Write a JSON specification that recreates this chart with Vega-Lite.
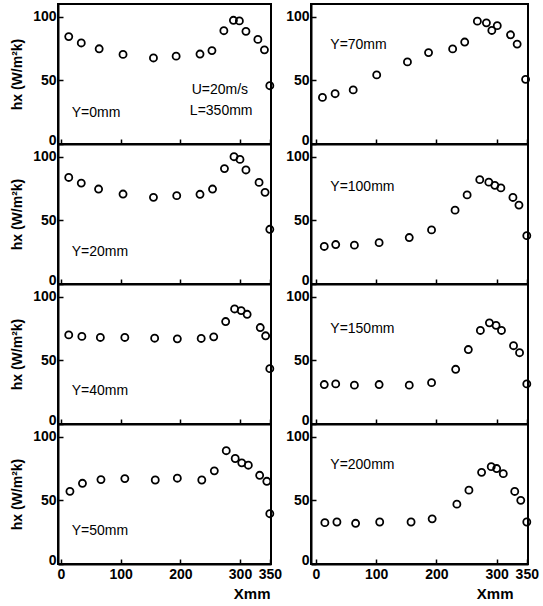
{
  "$schema": "https://vega.github.io/schema/vega-lite/v6.json",
  "background": "white",
  "padding": {"left": 9, "top": 3, "right": 5, "bottom": 0},
  "datasets": {
    "d": [
      {"p":"Y=0mm","x":13,"h":84.4},{"p":"Y=0mm","x":34,"h":79.4},{"p":"Y=0mm","x":64,"h":74.8},{"p":"Y=0mm","x":104,"h":70.4},{"p":"Y=0mm","x":155,"h":67.6},{"p":"Y=0mm","x":193,"h":69},{"p":"Y=0mm","x":233,"h":70.7},{"p":"Y=0mm","x":253,"h":73.4},{"p":"Y=0mm","x":273,"h":89},{"p":"Y=0mm","x":289,"h":97.2},{"p":"Y=0mm","x":299,"h":96.7},{"p":"Y=0mm","x":310,"h":88.5},{"p":"Y=0mm","x":330,"h":82.2},{"p":"Y=0mm","x":341,"h":74},{"p":"Y=0mm","x":350,"h":45.8},
      {"p":"Y=20mm","x":13,"h":83.7},{"p":"Y=20mm","x":34,"h":79.3},{"p":"Y=20mm","x":63,"h":74.6},{"p":"Y=20mm","x":104,"h":70.7},{"p":"Y=20mm","x":155,"h":68.1},{"p":"Y=20mm","x":194,"h":69.4},{"p":"Y=20mm","x":233,"h":70.5},{"p":"Y=20mm","x":254,"h":74.6},{"p":"Y=20mm","x":274,"h":90.7},{"p":"Y=20mm","x":290,"h":100},{"p":"Y=20mm","x":300,"h":97.9},{"p":"Y=20mm","x":310,"h":89.6},{"p":"Y=20mm","x":332,"h":79.8},{"p":"Y=20mm","x":342,"h":72},{"p":"Y=20mm","x":350,"h":43},
      {"p":"Y=40mm","x":13,"h":70},{"p":"Y=40mm","x":35,"h":68.8},{"p":"Y=40mm","x":66,"h":68},{"p":"Y=40mm","x":107,"h":68},{"p":"Y=40mm","x":157,"h":67.4},{"p":"Y=40mm","x":195,"h":66.9},{"p":"Y=40mm","x":235,"h":67.2},{"p":"Y=40mm","x":256,"h":68.5},{"p":"Y=40mm","x":276,"h":80.5},{"p":"Y=40mm","x":291,"h":90.4},{"p":"Y=40mm","x":302,"h":89.1},{"p":"Y=40mm","x":312,"h":86.2},{"p":"Y=40mm","x":334,"h":75.8},{"p":"Y=40mm","x":343,"h":69.3},{"p":"Y=40mm","x":350,"h":43.5},
      {"p":"Y=50mm","x":15,"h":57.1},{"p":"Y=50mm","x":36,"h":63.4},{"p":"Y=50mm","x":67,"h":66.3},{"p":"Y=50mm","x":107,"h":67.1},{"p":"Y=50mm","x":158,"h":66},{"p":"Y=50mm","x":195,"h":67.4},{"p":"Y=50mm","x":236,"h":66},{"p":"Y=50mm","x":257,"h":73.2},{"p":"Y=50mm","x":277,"h":89},{"p":"Y=50mm","x":292,"h":82.9},{"p":"Y=50mm","x":303,"h":79.5},{"p":"Y=50mm","x":314,"h":77.6},{"p":"Y=50mm","x":333,"h":69.7},{"p":"Y=50mm","x":345,"h":65},{"p":"Y=50mm","x":350,"h":39.5},
      {"p":"Y=70mm","x":11,"h":36.6},{"p":"Y=70mm","x":32,"h":39.5},{"p":"Y=70mm","x":62,"h":42.5},{"p":"Y=70mm","x":101,"h":54.3},{"p":"Y=70mm","x":152,"h":64.5},{"p":"Y=70mm","x":187,"h":71.8},{"p":"Y=70mm","x":227,"h":74.7},{"p":"Y=70mm","x":247,"h":80.1},{"p":"Y=70mm","x":268,"h":96.5},{"p":"Y=70mm","x":283,"h":95.2},{"p":"Y=70mm","x":292,"h":89.2},{"p":"Y=70mm","x":301,"h":93},{"p":"Y=70mm","x":323,"h":85.8},{"p":"Y=70mm","x":334,"h":78.5},{"p":"Y=70mm","x":348,"h":50.8},
      {"p":"Y=100mm","x":14,"h":29.5},{"p":"Y=100mm","x":33,"h":31},{"p":"Y=100mm","x":64,"h":30.5},{"p":"Y=100mm","x":105,"h":32.5},{"p":"Y=100mm","x":155,"h":36.5},{"p":"Y=100mm","x":192,"h":42.5},{"p":"Y=100mm","x":231,"h":58},{"p":"Y=100mm","x":251,"h":70},{"p":"Y=100mm","x":272,"h":82},{"p":"Y=100mm","x":287,"h":80},{"p":"Y=100mm","x":297,"h":77.5},{"p":"Y=100mm","x":307,"h":75.5},{"p":"Y=100mm","x":327,"h":68},{"p":"Y=100mm","x":337,"h":62},{"p":"Y=100mm","x":350,"h":38},
      {"p":"Y=150mm","x":14,"h":31},{"p":"Y=150mm","x":33,"h":31.5},{"p":"Y=150mm","x":64,"h":30.5},{"p":"Y=150mm","x":105,"h":31},{"p":"Y=150mm","x":155,"h":30.5},{"p":"Y=150mm","x":192,"h":32.5},{"p":"Y=150mm","x":232,"h":43},{"p":"Y=150mm","x":253,"h":58.5},{"p":"Y=150mm","x":273,"h":73.5},{"p":"Y=150mm","x":288,"h":79.5},{"p":"Y=150mm","x":299,"h":77.5},{"p":"Y=150mm","x":308,"h":73.5},{"p":"Y=150mm","x":328,"h":61.5},{"p":"Y=150mm","x":338,"h":56},{"p":"Y=150mm","x":350,"h":31.5},
      {"p":"Y=200mm","x":15,"h":32.5},{"p":"Y=200mm","x":35,"h":33},{"p":"Y=200mm","x":66,"h":32},{"p":"Y=200mm","x":106,"h":33},{"p":"Y=200mm","x":158,"h":33},{"p":"Y=200mm","x":193,"h":35.5},{"p":"Y=200mm","x":234,"h":47},{"p":"Y=200mm","x":254,"h":58},{"p":"Y=200mm","x":275,"h":72},{"p":"Y=200mm","x":291,"h":76.5},{"p":"Y=200mm","x":300,"h":75},{"p":"Y=200mm","x":311,"h":71},{"p":"Y=200mm","x":330,"h":57},{"p":"Y=200mm","x":340,"h":50},{"p":"Y=200mm","x":350,"h":33}
    ]
  },
  "data": {"name": "d"},
  "hconcat": [
    {
      "bounds": "flush",
      "spacing": 0,
      "vconcat": [
        {
          "width": 213, "height": 140,
          "layer": [
            {"transform": [{"filter": "datum.p == 'Y=0mm'"}], "mark": {"type": "point", "clip": false},
             "encoding": {
               "x": {"field": "x", "type": "quantitative", "scale": {"domain": [-5, 352], "nice": false, "zero": false}, "axis": {"values": [0, 100, 200, 300, 350], "labels": false, "title": null}},
               "y": {"field": "h", "type": "quantitative", "scale": {"domain": [0, 110], "nice": false}, "axis": {"values": [0, 50, 100], "title": "hx (W/m²k)", "labelOffset": {"condition": {"test": "datum.value == 0", "value": -4}, "value": 0}}}}},
            {"data": {"values": [{}]}, "mark": {"type": "text"}, "encoding": {"x": {"datum": 18}, "y": {"datum": 24}, "text": {"value": "Y=0mm"}}},
            {"data": {"values": [{}]}, "mark": {"type": "text"}, "encoding": {"x": {"datum": 219}, "y": {"datum": 42.5}, "text": {"value": "U=20m/s"}}},
            {"data": {"values": [{}]}, "mark": {"type": "text"}, "encoding": {"x": {"datum": 216}, "y": {"datum": 26}, "text": {"value": "L=350mm"}}}
          ]
        },
        {
          "width": 213, "height": 140,
          "layer": [
            {"transform": [{"filter": "datum.p == 'Y=20mm'"}], "mark": {"type": "point", "clip": false},
             "encoding": {
               "x": {"field": "x", "type": "quantitative", "scale": {"domain": [-5, 352], "nice": false, "zero": false}, "axis": {"values": [0, 100, 200, 300, 350], "labels": false, "title": null}},
               "y": {"field": "h", "type": "quantitative", "scale": {"domain": [0, 110], "nice": false}, "axis": {"values": [0, 50, 100], "title": "hx (W/m²k)", "labelOffset": {"condition": {"test": "datum.value == 0", "value": -4}, "value": 0}}}}},
            {"data": {"values": [{}]}, "mark": {"type": "text"}, "encoding": {"x": {"datum": 18}, "y": {"datum": 25}, "text": {"value": "Y=20mm"}}}
          ]
        },
        {
          "width": 213, "height": 140,
          "layer": [
            {"transform": [{"filter": "datum.p == 'Y=40mm'"}], "mark": {"type": "point", "clip": false},
             "encoding": {
               "x": {"field": "x", "type": "quantitative", "scale": {"domain": [-5, 352], "nice": false, "zero": false}, "axis": {"values": [0, 100, 200, 300, 350], "labels": false, "title": null}},
               "y": {"field": "h", "type": "quantitative", "scale": {"domain": [0, 110], "nice": false}, "axis": {"values": [0, 50, 100], "title": "hx (W/m²k)", "labelOffset": {"condition": {"test": "datum.value == 0", "value": -4}, "value": 0}}}}},
            {"data": {"values": [{}]}, "mark": {"type": "text"}, "encoding": {"x": {"datum": 18}, "y": {"datum": 26}, "text": {"value": "Y=40mm"}}}
          ]
        },
        {
          "width": 213, "height": 140,
          "layer": [
            {"transform": [{"filter": "datum.p == 'Y=50mm'"}], "mark": {"type": "point", "clip": false},
             "encoding": {
               "x": {"field": "x", "type": "quantitative", "scale": {"domain": [-5, 352], "nice": false, "zero": false}, "axis": {"values": [0, 100, 200, 300, 350], "title": "Xmm", "titleX": 212, "titleAlign": "right"}},
               "y": {"field": "h", "type": "quantitative", "scale": {"domain": [0, 110], "nice": false}, "axis": {"values": [0, 50, 100], "title": "hx (W/m²k)", "labelOffset": {"condition": {"test": "datum.value == 0", "value": -4}, "value": 0}}}}},
            {"data": {"values": [{}]}, "mark": {"type": "text"}, "encoding": {"x": {"datum": 18}, "y": {"datum": 26}, "text": {"value": "Y=50mm"}}}
          ]
        }
      ]
    },
    {
      "bounds": "flush",
      "spacing": 0,
      "vconcat": [
        {
          "width": 217, "height": 140,
          "layer": [
            {"transform": [{"filter": "datum.p == 'Y=70mm'"}], "mark": {"type": "point", "clip": false},
             "encoding": {
               "x": {"field": "x", "type": "quantitative", "scale": {"domain": [-8, 352], "nice": false, "zero": false}, "axis": {"values": [0, 100, 200, 300, 350], "labels": false, "title": null}},
               "y": {"field": "h", "type": "quantitative", "scale": {"domain": [0, 110], "nice": false}, "axis": {"values": [0, 50, 100], "title": null, "labelOffset": {"condition": {"test": "datum.value == 0", "value": -4}, "value": 0}}}}},
            {"data": {"values": [{}]}, "mark": {"type": "text"}, "encoding": {"x": {"datum": 24}, "y": {"datum": 78}, "text": {"value": "Y=70mm"}}}
          ]
        },
        {
          "width": 217, "height": 140,
          "layer": [
            {"transform": [{"filter": "datum.p == 'Y=100mm'"}], "mark": {"type": "point", "clip": false},
             "encoding": {
               "x": {"field": "x", "type": "quantitative", "scale": {"domain": [-8, 352], "nice": false, "zero": false}, "axis": {"values": [0, 100, 200, 300, 350], "labels": false, "title": null}},
               "y": {"field": "h", "type": "quantitative", "scale": {"domain": [0, 110], "nice": false}, "axis": {"values": [0, 50, 100], "title": null, "labelOffset": {"condition": {"test": "datum.value == 0", "value": -4}, "value": 0}}}}},
            {"data": {"values": [{}]}, "mark": {"type": "text"}, "encoding": {"x": {"datum": 24}, "y": {"datum": 76}, "text": {"value": "Y=100mm"}}}
          ]
        },
        {
          "width": 217, "height": 140,
          "layer": [
            {"transform": [{"filter": "datum.p == 'Y=150mm'"}], "mark": {"type": "point", "clip": false},
             "encoding": {
               "x": {"field": "x", "type": "quantitative", "scale": {"domain": [-8, 352], "nice": false, "zero": false}, "axis": {"values": [0, 100, 200, 300, 350], "labels": false, "title": null}},
               "y": {"field": "h", "type": "quantitative", "scale": {"domain": [0, 110], "nice": false}, "axis": {"values": [0, 50, 100], "title": null, "labelOffset": {"condition": {"test": "datum.value == 0", "value": -4}, "value": 0}}}}},
            {"data": {"values": [{}]}, "mark": {"type": "text"}, "encoding": {"x": {"datum": 24}, "y": {"datum": 75}, "text": {"value": "Y=150mm"}}}
          ]
        },
        {
          "width": 217, "height": 140,
          "layer": [
            {"transform": [{"filter": "datum.p == 'Y=200mm'"}], "mark": {"type": "point", "clip": false},
             "encoding": {
               "x": {"field": "x", "type": "quantitative", "scale": {"domain": [-8, 352], "nice": false, "zero": false}, "axis": {"values": [0, 100, 200, 300, 350], "title": "Xmm", "titleX": 202, "titleAlign": "right"}},
               "y": {"field": "h", "type": "quantitative", "scale": {"domain": [0, 110], "nice": false}, "axis": {"values": [0, 50, 100], "title": null, "labelOffset": {"condition": {"test": "datum.value == 0", "value": -4}, "value": 0}}}}},
            {"data": {"values": [{}]}, "mark": {"type": "text"}, "encoding": {"x": {"datum": 24}, "y": {"datum": 78}, "text": {"value": "Y=200mm"}}}
          ]
        }
      ]
    }
  ],
  "spacing": 1,
  "config": {
    "concat": {"spacing": 0},
    "view": {"stroke": "black", "strokeWidth": 2},
    "axis": {
      "grid": false, "domainColor": "black", "domainWidth": 2, "tickColor": "black", "tickWidth": 1.5, "tickSize": -5,
      "labelFont": "Liberation Sans", "labelFontWeight": "bold", "labelFontSize": 14, "labelColor": "black", "labelPadding": 7,
      "labelFlush": false, "labelOverlap": false,
      "titleFont": "Liberation Sans", "titleFontWeight": "bold", "titleFontSize": 14, "titleColor": "black", "titlePadding": 8
    },
    "axisX": {"titleFontSize": 15, "titlePadding": 5, "labelPadding": 8},
    "point": {"filled": false, "color": "black", "size": 50, "strokeWidth": 1.8, "opacity": 1},
    "text": {"font": "Liberation Sans", "fontSize": 14, "color": "black", "align": "left", "baseline": "middle"}
  }
}
